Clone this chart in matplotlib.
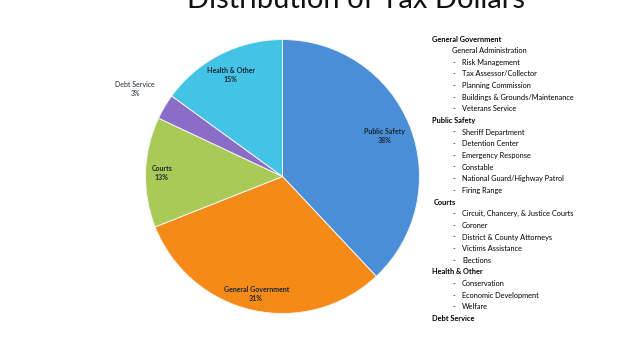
import matplotlib.pyplot as plt
import numpy as np

# pie data (clockwise from 12 o'clock)
categories = ['Public Safety', 'General Government', 'Courts', 'Debt Service', 'Health & Other']
shares = [38, 31, 13, 3, 15]
colors = ['#4a8ed8', '#f58a17', '#a8cb58', '#8b6cc6', '#43c3e5']
label_dist = [0.80, 0.88, 0.88, 1.25, 0.83]

# right-hand list: (text, kind) kind: h=header, s=sub (no dash), d=dashed item
items = [
    ('General Government', 'h'),
    ('General Administration', 's'),
    ('Risk Management', 'd'),
    ('Tax Assessor/Collector', 'd'),
    ('Planning Commission', 'd'),
    ('Buildings & Grounds/Maintenance', 'd'),
    ('Veterans Service', 'd'),
    ('Public Safety', 'h'),
    ('Sheriff Department', 'd'),
    ('Detention Center', 'd'),
    ('Emergency Response', 'd'),
    ('Constable', 'd'),
    ('National Guard/Highway Patrol', 'd'),
    ('Firing Range', 'd'),
    ('Courts', 'h'),
    ('Circuit, Chancery, & Justice Courts', 'd'),
    ('Coroner', 'd'),
    ('District & County Attorneys', 'd'),
    ('Victims Assistance', 'd'),
    ('Elections', 'd'),
    ('Health & Other', 'h'),
    ('Conservation', 'd'),
    ('Economic Development', 'd'),
    ('Welfare', 'd'),
    ('Debt Service', 'h'),
]

W, H = 622, 352
fig = plt.figure(figsize=(W / 100, H / 100), dpi=100)
fig.patch.set_facecolor('white')

# pie axes placed in pixels: centre (282.5,176.5), radius 137
cx, cy, r = 282.5, 176.5, 137
ax = fig.add_axes([(cx - r) / W, (H - cy - r) / H, 2 * r / W, 2 * r / H])
wedges, _ = ax.pie(shares, colors=colors, startangle=90, counterclock=False,
                   wedgeprops=dict(edgecolor='#f4f4f4', linewidth=0.7))
ax.set_xlim(-1, 1)
ax.set_ylim(-1, 1)
ax.set_aspect('equal')
ax.axis('off')

for w, name, s, d in zip(wedges, categories, shares, label_dist):
    ang = np.deg2rad((w.theta1 + w.theta2) / 2)
    ax.text(d * np.cos(ang), d * np.sin(ang), '%s\n%d%%' % (name, s),
            ha='center', va='center', fontsize=5, family='Lato',
            fontweight='bold' if d < 1 else 'normal', color='#1c2633',
            linespacing=1.3, clip_on=False)

# title runs off the top edge like in the original slide
fig.text(356 / W, 1 - 8 / H, 'Distribution of Tax Dollars', ha='center',
         va='baseline', fontsize=21, family='Lato', color='#111111')

y0, dy = 39, 11.65
for i, (txt, kind) in enumerate(items):
    y = 1 - (y0 + i * dy) / H
    if kind == 'h':
        x = 434 if txt == 'Courts' else 432
        fig.text(x / W, y, txt, fontsize=5.3, family='Lato', fontweight='bold',
                 va='center', color='black')
    elif kind == 's':
        fig.text(452 / W, y, txt, fontsize=5.3, family='Lato', va='center', color='black')
    else:
        fig.text(453 / W, y, '-', fontsize=5.3, family='Lato', va='center', color='black')
        fig.text(462 / W, y, txt, fontsize=5.3, family='Lato', va='center', color='black')

fig.savefig('out.png', dpi=100)
